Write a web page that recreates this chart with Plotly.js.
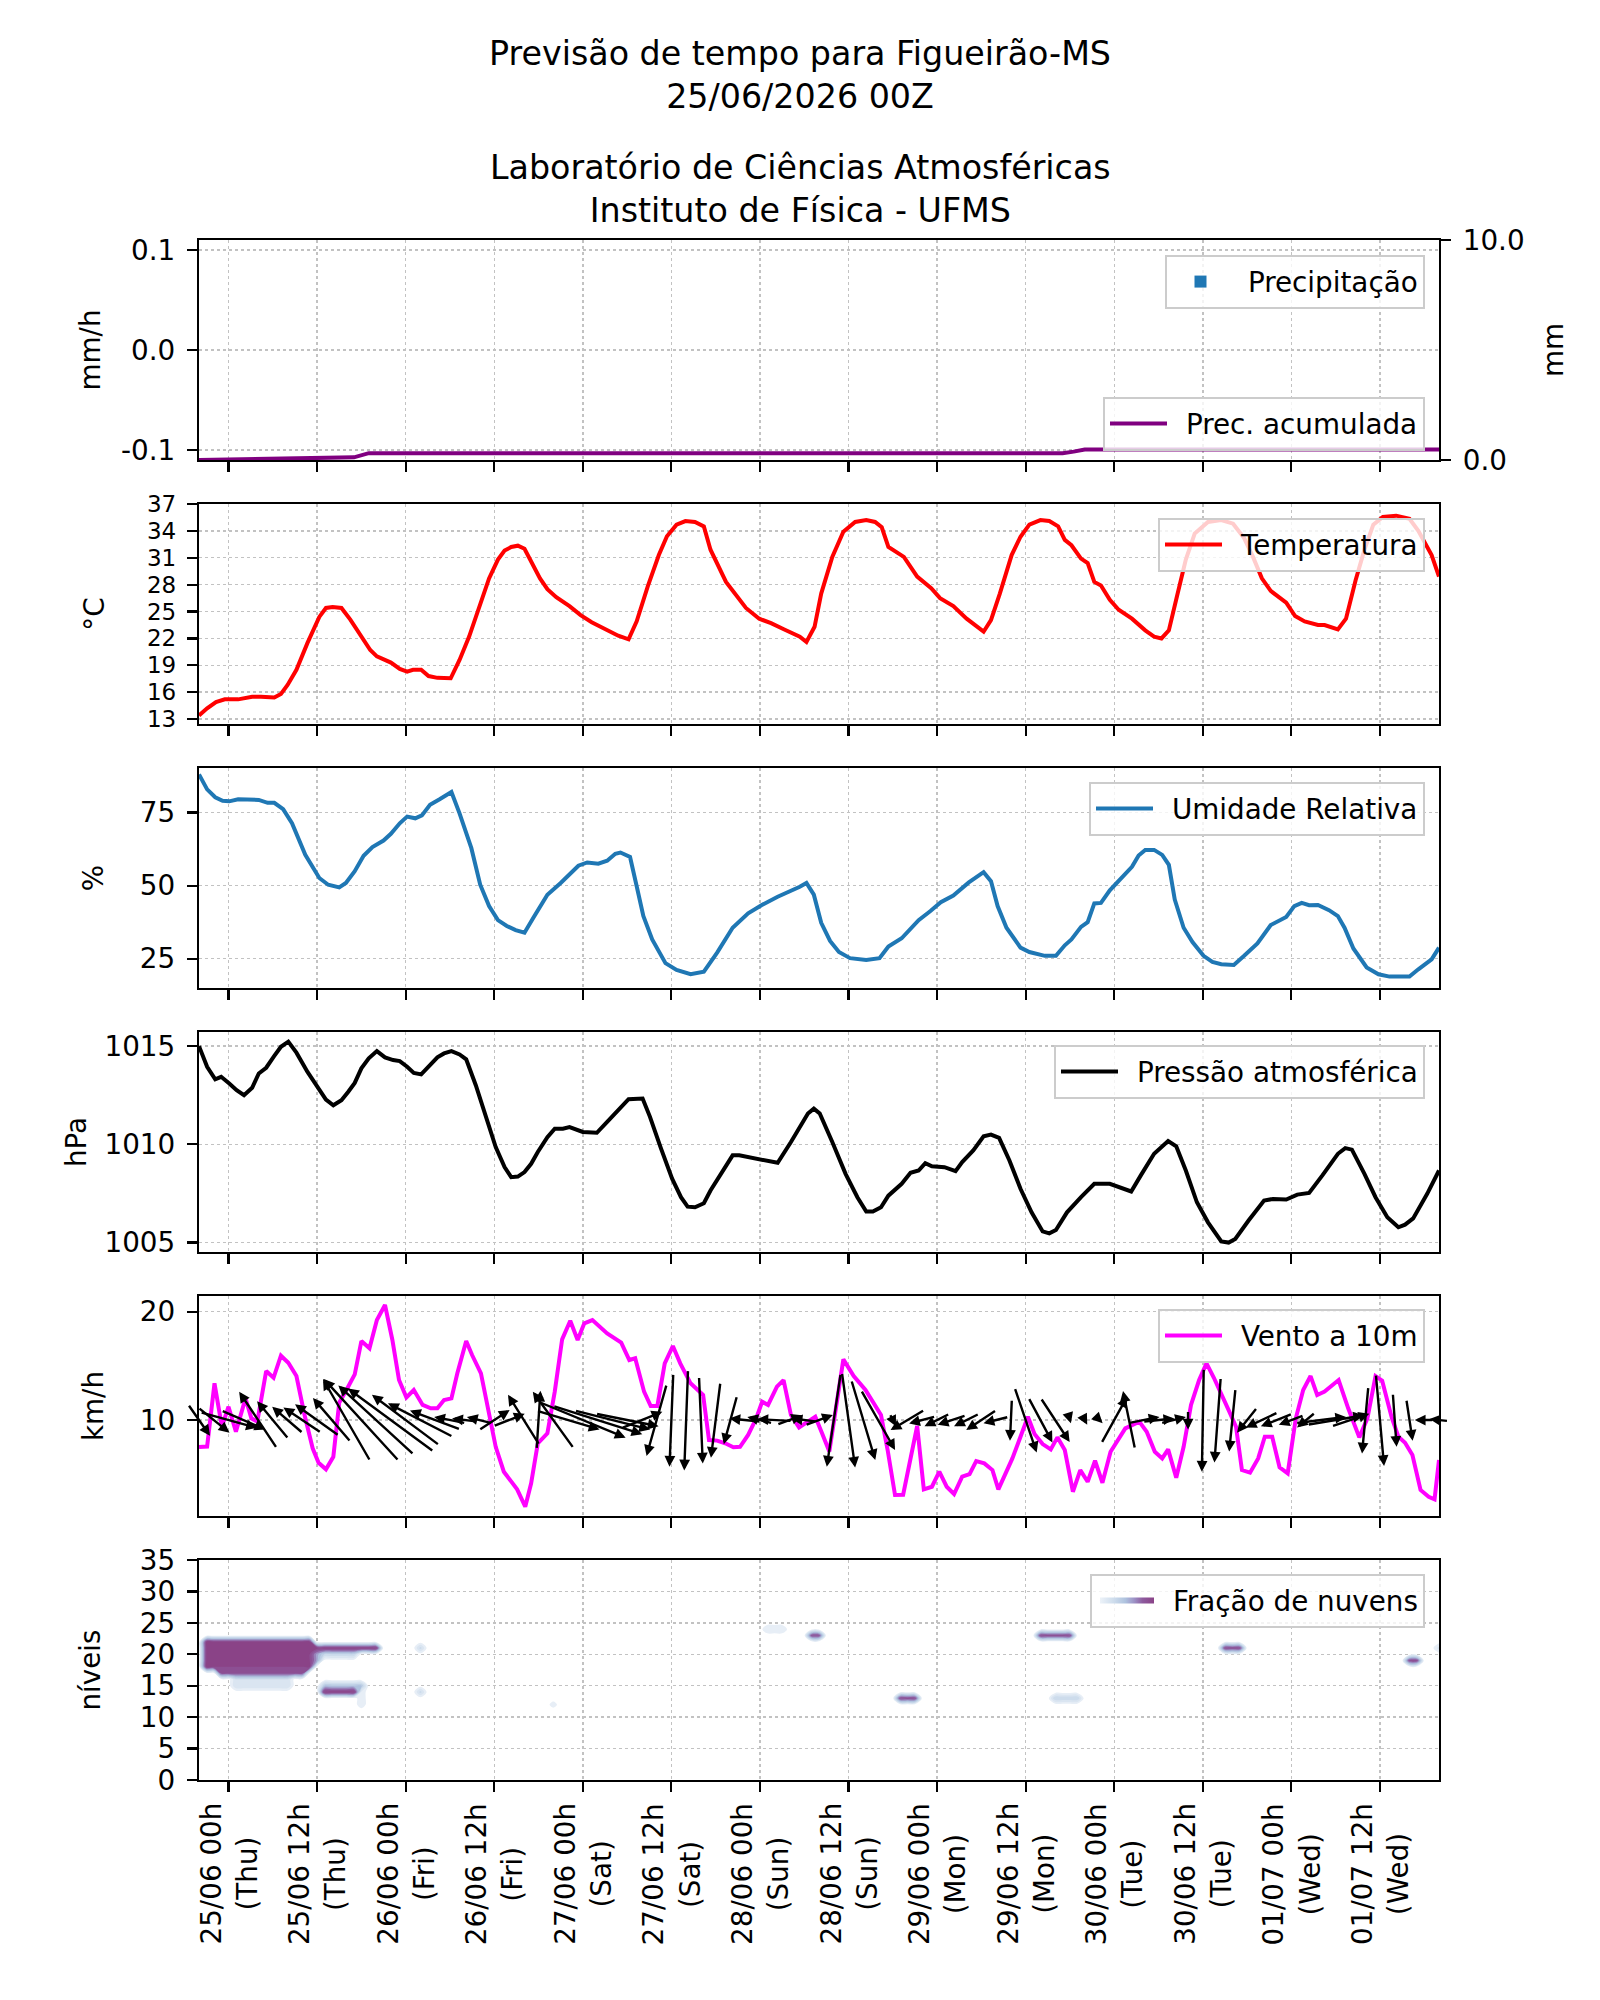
<!DOCTYPE html>
<html>
<head>
<meta charset="utf-8">
<script src="https://cdn.plot.ly/plotly-3.0.1.min.js"></script>
<style>html,body{margin:0;padding:0;background:#fff}</style>
</head>
<body>
<div id="chart" style="width:1600px;height:2000px"></div>
<script>
// Forecast time axis: hours counted from 24/06 20h (local), the first model step.
const tickHours = [4, 16, 28, 40, 52, 64, 76, 88, 100, 112, 124, 136, 148, 160];
const tickDates = ['25/06 00h', '25/06 12h', '26/06 00h', '26/06 12h', '27/06 00h', '27/06 12h',
  '28/06 00h', '28/06 12h', '29/06 00h', '29/06 12h', '30/06 00h', '30/06 12h', '01/07 00h', '01/07 12h'];
const tickDays = ['(Thu)', '(Thu)', '(Fri)', '(Fri)', '(Sat)', '(Sat)', '(Sun)', '(Sun)',
  '(Mon)', '(Mon)', '(Tue)', '(Tue)', '(Wed)', '(Wed)'];

// Hourly precipitation (mm/h) and accumulated precipitation (mm)
const precipHours = [0, 12, 24, 36, 48, 60, 72, 84, 96, 108, 120, 132, 144, 156, 168];
const precipRate = [0, 0, 0, 0, 0, 0, 0, 0, 0, 0, 0, 0, 0, 0, 0];
const accumHours = [0, 21, 23, 117, 118.5, 120, 168];
const accumMm = [0.0, 0.12, 0.31, 0.31, 0.38, 0.48, 0.48];

// 2 m temperature (°C)
const tempHours = [0, 1.1, 2.3, 3.5, 5.3, 7.2, 8.4, 10.2, 11.1, 12.0, 13.2, 14.7, 16.3, 17.2, 18.1, 19.3, 20.5,
  22.0, 23.2, 24.1, 26.0, 27.2, 28.2, 29.0, 30.1, 31.1, 32.3, 34.1, 35.3, 36.6, 38.1, 39.3, 40.5, 41.4, 42.3,
  43.2, 44.1, 45.3, 46.2, 47.2, 48.4, 50.2, 51.7, 53.2, 55.0, 56.8, 58.2, 59.3, 60.8, 62.3, 63.4, 64.7, 65.9,
  67.2, 68.4, 69.3, 71.4, 74.1, 75.9, 77.5, 79.3, 81.4, 82.3, 83.4, 84.3, 85.8, 87.3, 88.9, 90.4, 91.6, 92.5,
  93.4, 95.5, 97.3, 99.2, 100.4, 102.2, 104.0, 106.3, 107.3, 108.5, 110.1, 111.3, 112.5, 114.0, 115.2, 116.4,
  117.3, 118.2, 119.5, 120.4, 121.3, 122.2, 123.4, 124.6, 126.4, 128.2, 129.4, 130.4, 131.4, 132.5, 133.7,
  134.9, 136.7, 138.5, 140.1, 141.6, 142.8, 144.0, 145.2, 147.3, 148.5, 149.8, 151.6, 152.5, 154.3, 155.4,
  156.7, 157.9, 159.1, 160.4, 162.2, 164.0, 165.2, 167.0, 168.0];
const tempC = [13.4, 14.2, 14.9, 15.2, 15.2, 15.5, 15.5, 15.4, 15.8, 16.8, 18.5, 21.5, 24.4, 25.4, 25.5, 25.4, 24.1,
  22.2, 20.7, 20.0, 19.3, 18.6, 18.3, 18.5, 18.5, 17.8, 17.6, 17.55, 19.6, 22.2, 25.9, 28.7, 30.8, 31.8, 32.2,
  32.35, 32.0, 30.0, 28.7, 27.5, 26.6, 25.6, 24.6, 23.8, 23.0, 22.3, 21.9, 23.9, 27.8, 31.3, 33.4, 34.7, 35.1,
  35.0, 34.5, 31.9, 28.3, 25.4, 24.2, 23.7, 23.0, 22.2, 21.6, 23.3, 27.0, 31.1, 33.9, 35.0, 35.2, 35.0, 34.4,
  32.2, 31.1, 28.9, 27.6, 26.5, 25.6, 24.2, 22.75, 24.05, 27.0, 31.3, 33.35, 34.7, 35.2, 35.1, 34.5,
  33.0, 32.4, 30.9, 30.4, 28.3, 27.9, 26.3, 25.2, 24.2, 22.9, 22.2, 22.0, 22.9, 26.7, 30.8,
  33.7, 35.0, 35.2, 34.8, 33.2, 31.1, 28.7, 27.3, 26.0, 24.5, 23.9, 23.5, 23.5, 23.0, 24.2,
  28.5, 31.9, 34.7, 35.55, 35.7, 35.35, 34.0, 31.3, 28.9];

// Relative humidity (%)
const rhHours = [0, 1.1, 2.2, 3.2, 4.1, 5.3, 8.1, 9.3, 10.2, 11.4, 12.6, 14.4, 16.3, 17.5, 19.0, 19.9, 21.1, 22.3,
  23.5, 25.0, 26.0, 27.2, 28.2, 29.3, 30.2, 31.3, 32.6, 34.2, 35.3, 36.9, 38.1, 39.3, 40.5, 41.7, 42.9, 44.1,
  45.3, 47.2, 49.0, 51.4, 52.6, 54.1, 55.3, 56.4, 57.1, 58.4, 59.3, 60.2, 61.4, 63.2, 64.7, 66.6, 68.4, 70.2,
  72.3, 74.4, 76.2, 78.4, 81.4, 82.3, 83.3, 84.3, 85.5, 86.7, 88.2, 90.4, 92.2, 93.4, 95.2, 96.4, 97.5, 99.1,
  100.5, 102.2, 104.3, 106.3, 107.3, 108.2, 109.4, 111.3, 112.5, 114.6, 116.1, 117.3, 118.2, 119.5, 120.4,
  121.3, 122.2, 123.4, 124.7, 126.4, 127.3, 128.2, 129.4, 130.5, 131.4, 132.2, 133.4, 134.6, 136.1, 137.3,
  138.5, 140.2, 141.6, 143.4, 145.2, 146.4, 147.3, 148.4, 149.4, 150.4, 151.6, 153.1, 154.3, 155.2, 156.4,
  158.2, 159.8, 161.3, 164.0, 165.2, 167.0, 168.0];
const rhPct = [88.0, 82.9, 80.2, 79.0, 78.8, 79.5, 79.3, 78.3, 78.3, 76.1, 71.3, 60.5, 52.6, 50.3, 49.4, 50.9, 54.9, 60.2,
  63.2, 65.4, 67.7, 71.3, 73.6, 73.0, 74.0, 77.6, 79.5, 82.0, 74.7, 62.8, 50.3, 43.0, 38.2, 36.2, 34.8, 33.9,
  39.0, 46.9, 50.9, 56.8, 57.9, 57.5, 58.5, 60.9, 61.3, 59.8, 49.8, 39.6, 31.6, 23.5, 21.2, 19.7, 20.6, 27.1,
  35.6, 40.5, 43.3, 46.2, 49.6, 50.9, 46.9, 37.3, 31.1, 27.3, 25.2, 24.6, 25.2, 29.2, 32.0, 35.0, 38.2, 41.3,
  44.3, 46.6, 51.1, 54.6, 51.5, 43.0, 35.6, 28.8, 27.3, 26.0, 26.0, 29.6, 31.6, 35.9, 37.5,
  43.9, 44.1, 48.4, 51.8, 56.4, 60.3, 62.2, 62.2, 60.5, 57.1, 45.2, 35.6, 30.7, 26.0, 23.9,
  23.1, 22.9, 26.0, 30.2, 36.5, 38.2, 39.3, 43.0, 44.1, 43.3, 43.4, 41.6, 39.6, 35.6, 28.5,
  22.0, 19.7, 18.9, 18.9, 21.4, 24.8, 28.8];

// Sea-level pressure (hPa)
const presHours = [0, 1.1, 2.2, 3.0, 4.1, 5.1, 6.1, 7.2, 8.1, 9.1, 10.2, 11.1, 12.1, 13.2, 14.7, 16.3, 17.2, 18.2,
  19.3, 20.2, 21.1, 22.0, 23.0, 24.1, 25.2, 26.3, 27.2, 28.2, 29.1, 30.1, 31.1, 32.3, 33.2, 34.2, 35.3, 36.2,
  37.5, 39.0, 40.2, 41.4, 42.3, 43.2, 44.1, 45.0, 45.9, 47.2, 48.2, 49.3, 50.2, 52.0, 53.9, 55.3, 56.8, 58.2,
  60.1, 61.1, 62.6, 64.1, 65.3, 66.2, 67.2, 68.4, 69.3, 70.8, 72.3, 73.2, 75.0, 76.8, 78.4, 80.2, 81.6, 82.5,
  83.3, 84.1, 85.8, 87.6, 89.2, 90.4, 91.3, 92.4, 93.4, 95.2, 96.4, 97.5, 98.4, 99.3, 101.0, 102.5, 103.4,
  104.9, 106.3, 107.3, 108.4, 109.8, 111.3, 112.8, 114.3, 115.2, 116.1, 117.6, 119.5, 121.3, 123.4, 125.2,
  126.3, 127.6, 129.4, 131.3, 132.4, 133.7, 135.2, 136.7, 138.5, 139.5, 140.4, 142.2, 144.3, 145.5, 147.3,
  148.8, 150.4, 152.2, 154.3, 155.3, 156.2, 157.9, 159.4, 161.0, 162.5, 163.4, 164.5, 166.4, 168.0];
const presHpa = [1015.0, 1013.95, 1013.31, 1013.44, 1013.10, 1012.76, 1012.50, 1012.88, 1013.61, 1013.90, 1014.50,
  1014.97, 1015.23, 1014.67, 1013.69, 1012.76, 1012.28, 1011.99, 1012.25, 1012.67, 1013.13, 1013.87, 1014.38,
  1014.75, 1014.43, 1014.29, 1014.24, 1013.95, 1013.64, 1013.56, 1013.99, 1014.43, 1014.63, 1014.75, 1014.58,
  1014.33, 1013.01, 1011.23, 1009.86, 1008.84, 1008.33, 1008.36, 1008.59, 1009.01, 1009.61, 1010.37, 1010.80,
  1010.80, 1010.88, 1010.63, 1010.59, 1011.14, 1011.74, 1012.30, 1012.33, 1011.40, 1009.78, 1008.25, 1007.31,
  1006.83, 1006.80, 1007.00, 1007.65, 1008.59, 1009.44, 1009.44, 1009.32, 1009.18, 1009.06, 1010.12, 1011.0,
  1011.57, 1011.82, 1011.57, 1010.12, 1008.50, 1007.31, 1006.58, 1006.58, 1006.80, 1007.39, 1007.99, 1008.55,
  1008.67, 1009.04, 1008.88, 1008.84, 1008.64, 1009.10, 1009.69, 1010.41, 1010.50, 1010.33, 1009.18, 1007.74,
  1006.54, 1005.57, 1005.47, 1005.64, 1006.54, 1007.31, 1007.99, 1007.99, 1007.74, 1007.60, 1008.42, 1009.52,
  1010.17, 1009.90, 1008.67, 1007.05, 1006.03, 1005.06, 1005.0, 1005.18, 1006.12, 1007.14, 1007.22, 1007.19,
  1007.44, 1007.53, 1008.42, 1009.52, 1009.81, 1009.73, 1008.50, 1007.31, 1006.29, 1005.78, 1005.91, 1006.23,
  1007.48, 1008.67];

// 10 m wind speed (km/h)
const windHours = [0, 1.1, 2.1, 3.1, 4.0, 5.0, 6.3, 7.1, 7.9, 9.1, 10.1, 11.1, 12.1, 13.2, 14.3, 15.4, 16.2, 17.2,
  18.2, 19.0, 20.1, 21.1, 22.0, 23.1, 24.1, 25.2, 26.2, 27.1, 28.1, 29.1, 30.3, 31.4, 32.3, 33.2, 34.2, 35.0,
  36.2, 37.0, 38.2, 39.2, 40.2, 41.3, 43.1, 44.2, 45.0, 45.9, 47.2, 48.2, 49.2, 50.3, 51.3, 52.2, 53.3, 55.3,
  57.2, 58.3, 59.1, 60.3, 61.2, 62.1, 63.1, 64.2, 65.2, 66.6, 68.3, 69.1, 70.2, 71.3, 72.4, 73.3, 74.4, 75.5,
  76.3, 77.1, 78.3, 79.2, 80.2, 81.3, 82.5, 83.5, 84.4, 85.4, 87.3, 88.7, 90.3, 92.4, 93.3, 94.3, 95.4, 96.3,
  97.3, 98.2, 99.3, 100.3, 101.3, 102.3, 103.4, 104.4, 105.3, 106.4, 107.5, 108.3, 110.2, 111.3, 112.3, 113.2,
  114.3, 115.4, 116.3, 117.3, 118.4, 119.4, 120.4, 121.4, 122.4, 123.5, 125.5, 127.4, 128.4, 129.5, 130.5,
  131.3, 132.4, 133.4, 134.4, 135.5, 136.5, 137.5, 138.4, 139.5, 140.5, 141.3, 142.4, 143.5, 144.4, 145.4,
  146.4, 147.5, 148.6, 149.6, 150.6, 151.5, 152.5, 154.4, 155.7, 157.2, 158.3, 159.4, 160.3, 161.6, 162.5,
  163.4, 164.4, 165.5, 166.6, 167.4, 168.0];
const windKmh = [7.5, 7.55, 13.39, 9.38, 11.23, 8.92, 12.0, 10.16, 9.85, 14.52, 13.9, 15.94, 15.29, 14.06, 10.46, 7.39,
  6.06, 5.45, 6.61, 11.6, 12.93, 14.22, 17.29, 16.62, 19.23, 20.62, 17.39, 13.69, 12.09, 12.77, 11.39, 11.08,
  11.08, 11.85, 12.0, 14.31, 17.29, 16.0, 14.31, 10.92, 7.53, 5.23, 3.60, 2.0, 4.16, 7.85, 8.77, 12.62, 17.45,
  19.17, 17.39, 18.93, 19.23, 18.0, 17.14, 15.54, 15.7, 12.62, 11.29, 11.3, 15.23, 16.83, 15.23, 13.39, 12.31,
  8.15, 8.1, 7.85, 7.48, 7.53, 8.62, 10.16, 11.69, 11.39, 13.08, 13.69, 10.46, 9.32, 9.85, 10.31, 8.8, 7.1,
  15.6, 14.06, 12.77, 10.46, 7.23, 3.08, 3.1, 6.31, 9.45, 3.6, 3.84, 5.23, 3.84, 3.17, 4.77, 5.01, 6.21, 6.0,
  5.38, 3.6, 6.46, 8.46, 10.31, 8.71, 7.78, 7.29, 8.4, 7.23, 3.38, 5.38, 4.3, 6.24, 4.21, 7.07, 9.23, 9.85,
  8.92, 7.07, 6.46, 7.29, 4.67, 7.53, 11.39, 13.69, 15.23, 13.9, 12.62, 10.92, 9.38, 5.38, 5.14, 6.46, 8.46,
  8.46, 5.63, 5.08, 10.16, 12.77, 14.06, 12.31, 12.62, 13.69, 11.08, 8.4, 10.16, 14.06, 13.63, 10.22, 8.46,
  7.91, 6.77, 3.54, 2.92, 2.68, 6.31];

// Wind vectors every 2 h (u = east, v = north, km/h), drawn centred on the 10 km/h line
const arrowHours = [0, 2, 4, 6, 8, 10, 12, 14, 16, 18, 20, 22, 24, 26, 28, 30, 32, 34, 36, 38, 40, 42, 44, 46,
  48, 50, 52, 54, 56, 58, 60, 62, 64, 66, 68, 70, 72, 74, 76, 78, 80, 82, 84, 86, 88, 90, 92, 94, 96, 98, 100,
  102, 104, 106, 108, 110, 112, 114, 116, 118, 120, 122, 124, 126, 128, 130, 132, 134, 136, 138, 140, 142, 144,
  146, 148, 150, 152, 154, 156, 158, 160, 162, 164, 166, 168];
const arrowU = [3.5, 5, 9, 7, -6, -5, -4.9, -6, -7, -6, -7.5, -11.9, -12, -13.6, -10.7, -10.3, -8, -5, -4, -4,
  4.9, 5, -5, 0.6, -6.5, 10, 13.6, 14.2, 12, 10, 6.5, -3.2, -0.6, -0.6, 0.6, -1.5, -2.1, -5, -4, -5.5, 4, -4,
  4.4, -2.2, 2.1, 3.8, 5.4, 1, -5.4, -4.2, -4, -4.5, -4, -4.8, -4, -0.3, 3.5, 3.8, 4.6, 0.3, 0.8, 1, 4.1, -1.9,
  5, 5, 4, 0, -0.3, -1, -1, -3.2, -5.1, -5, -4, -2.9, 8, 9, 6, -1, 1.3, 0.6, 1, -3, -3];
const arrowV = [-5, -4, -2.5, -3, 9, 6, 4.2, 4, 5, 7, 13, 13, 11, 10, 8, 5.3, 3, 1, 0.5, 1,
  3.2, 2, 8, 9.3, 9, -3, -5.6, -4.5, -3, -2, 2.6, -11.4, -14.8, -16, -13.8, -12, -7.7, 0.5, 1, 0.3, 1.5, 0.5,
  1.6, -14.8, -15.1, -12.7, -9.5, -2, -3.2, -1.1, -2, -1.5, -2, -3.2, -1, -6.6, -10.3, -7.1, -7, -1, -1.5, -1, 7.4, 9.2,
  1, 0.5, 1, -3, -16.4, -13.5, -10, -4, -2.4, -2, -1.5, -2.4, 1, 1.5, 2, -10.6, -14.6, -8.5, -6.6, 0, 0.3];

// Cloud fraction by model level: rectangular blocks of hours/levels sharing one value
const cloudHourFrom = [1, 3, 5, 16, 16, 16, 17, 17, 22, 30, 30, 48, 77, 83, 95, 114, 116, 139, 164, 168];
const cloudHourTo = [15, 14, 12, 24, 21, 16, 21, 22, 22, 30, 30, 48, 79, 84, 97, 118, 119, 141, 165, 168];
const cloudLevelFrom = [18, 17, 15, 21, 20, 19, 14, 15, 12, 21, 14, 12, 24, 23, 13, 23, 13, 21, 19, 21];
const cloudLevelTo = [22, 17, 16, 21, 20, 20, 14, 15, 14, 21, 14, 12, 24, 23, 13, 23, 13, 21, 19, 21];
const cloudFraction = [0.95, 0.85, 0.25, 1.0, 0.35, 0.6, 1.0, 0.45, 0.12, 0.3, 0.3, 0.1, 0.15, 0.85, 0.9, 0.9,
  0.35, 0.9, 0.9, 0.2];

// ---------------------------------------------------------------------------
const FONT = 'DejaVu Sans';
const FS = 27.8;
const W = 1600, H = 2000;
const M = {l: 199, r: 161, t: 240, b: 220};
const plotW = W - M.l - M.r;
const plotH = H - M.t - M.b;
const panelPx = 220, gapPx = 44;
const HOUR_RANGE = [0, 168];
const LEGEND_GAP = '\u2002';

// paper-y domain of panel i (0 = top)
function domainOf(i) {
  const top = 1 - i * (panelPx + gapPx) / plotH;
  return [top - panelPx / plotH, top];
}

const gridStyle = {showgrid: true, gridcolor: '#c2c2c2', gridwidth: 1.4, griddash: 'dot'};
const lineStyle = {showline: true, linecolor: '#000', linewidth: 2.2, mirror: true, zeroline: false,
  ticks: 'outside', ticklen: 10, tickwidth: 2.2, tickcolor: '#000',
  tickfont: {family: FONT, size: FS, color: '#000'}};

function xAxis(anchor) {
  return Object.assign({}, lineStyle, gridStyle, {
    domain: [0, 1], range: HOUR_RANGE, anchor: anchor, tickmode: 'array', tickvals: tickHours,
    showticklabels: false, fixedrange: true
  });
}
function yAxis(i, anchor, range, extra, title, standoff) {
  return Object.assign({}, lineStyle, gridStyle, {
    domain: domainOf(i), range: range, anchor: anchor, fixedrange: true, ticklabelstandoff: 6,
    title: {text: title, font: {family: FONT, size: FS, color: '#000'}, standoff: standoff}
  }, extra);
}

function legendBox(yTopPx) {
  return {
    x: (1425 - M.l) / plotW, xanchor: 'right', y: (H - M.b - yTopPx) / plotH, yanchor: 'top',
    bgcolor: 'rgba(255,255,255,0.8)', bordercolor: '#cccccc', borderwidth: 2,
    font: {family: FONT, size: FS, color: '#000'}, itemwidth: 57, tracegroupgap: 0, itemclick: false
  };
}

// Cloud-fraction grid built from the blocks above
const gridHours = [];
for (let h = HOUR_RANGE[0]; h <= HOUR_RANGE[1]; h++) gridHours.push(h);
const gridLevels = [];
for (let l = 0; l <= 35; l++) gridLevels.push(l);
const cloudZ = gridLevels.map(l => gridHours.map(h => {
  let v = 0;
  for (let k = 0; k < cloudFraction.length; k++) {
    if (h >= cloudHourFrom[k] && h <= cloudHourTo[k] && l >= cloudLevelFrom[k] && l <= cloudLevelTo[k]) {
      v = Math.max(v, cloudFraction[k]);
    }
  }
  return v;
}));

const traces = [
  {type: 'bar', x: precipHours, y: precipRate, name: LEGEND_GAP + 'Precipitação', marker: {color: '#1f77b4'},
    xaxis: 'x', yaxis: 'y', legend: 'legend', hoverinfo: 'skip'},
  {type: 'scatter', mode: 'lines', x: accumHours, y: accumMm, name: LEGEND_GAP + 'Prec. acumulada',
    line: {color: '#800080', width: 4}, xaxis: 'x', yaxis: 'y7', legend: 'legend2', hoverinfo: 'skip'},
  {type: 'scatter', mode: 'lines', x: tempHours, y: tempC, name: LEGEND_GAP + 'Temperatura',
    line: {color: '#ff0000', width: 4}, xaxis: 'x2', yaxis: 'y2', legend: 'legend3', hoverinfo: 'skip'},
  {type: 'scatter', mode: 'lines', x: rhHours, y: rhPct, name: LEGEND_GAP + 'Umidade Relativa',
    line: {color: '#1f77b4', width: 4}, xaxis: 'x3', yaxis: 'y3', legend: 'legend4', hoverinfo: 'skip'},
  {type: 'scatter', mode: 'lines', x: presHours, y: presHpa, name: LEGEND_GAP + 'Pressão atmosférica',
    line: {color: '#000000', width: 4}, xaxis: 'x4', yaxis: 'y4', legend: 'legend5', hoverinfo: 'skip'},
  {type: 'scatter', mode: 'lines', x: windHours, y: windKmh, name: LEGEND_GAP + 'Vento a 10m',
    line: {color: '#ff00ff', width: 4}, xaxis: 'x5', yaxis: 'y5', legend: 'legend6', hoverinfo: 'skip'},
  {type: 'contour', x: gridHours, y: gridLevels, z: cloudZ, name: LEGEND_GAP + 'Fração de nuvens',
    xaxis: 'x6', yaxis: 'y6', legend: 'legend7', showlegend: true, showscale: false,
    zauto: false, zmin: 0, zmax: 1, autocontour: false,
    contours: {start: 0.05, end: 0.95, size: 0.1, coloring: 'fill', showlines: false},
    line: {width: 0, smoothing: 1},
    colorscale: [[0, 'rgba(255,255,255,0)'], [0.049, 'rgba(255,255,255,0)'], [0.05, '#edf3f9'],
      [0.3, '#cddcec'], [0.5, '#aec2de'], [0.65, '#9d93c6'], [0.8, '#8e5b9e'], [1, '#8a4387']],
    hoverinfo: 'skip'}
];

const windRange = [1.14, 21.45];
const layout = {
  width: W, height: H, margin: M, paper_bgcolor: '#fff', plot_bgcolor: '#fff',
  font: {family: FONT, size: FS, color: '#000'}, hovermode: false, showlegend: true,
  title: {text: 'Previsão de tempo para Figueirão-MS<br>25/06/2026 00Z',
    font: {family: FONT, size: 33.3, color: '#000'}, x: 0.5, xref: 'container', xanchor: 'center',
    y: 1 - 64.5 / H, yref: 'container', yanchor: 'middle'},
  xaxis: xAxis('y'), xaxis2: xAxis('y2'), xaxis3: xAxis('y3'),
  xaxis4: xAxis('y4'), xaxis5: xAxis('y5'), xaxis6: xAxis('y6'),
  yaxis: yAxis(0, 'x', [-0.11, 0.11], {tickmode: 'array', tickvals: [-0.1, 0, 0.1],
    ticktext: ['-0.1', '0.0', '0.1']}, 'mm/h', 12),
  yaxis7: Object.assign({}, lineStyle, {overlaying: 'y', side: 'right', anchor: 'x', range: [0, 10],
    tickmode: 'array', tickvals: [0, 10], ticktext: ['0.0', '10.0'], showgrid: false, fixedrange: true,
    ticklabelstandoff: 6,
    title: {text: 'mm', font: {family: FONT, size: FS, color: '#000'}, standoff: 20}}),
  yaxis2: yAxis(1, 'x2', [12.45, 37], {tickmode: 'linear', tick0: 13, dtick: 3,
    tickfont: {family: FONT, size: 23, color: '#000'}}, '°C', 34),
  yaxis3: yAxis(2, 'x3', [15.0, 90.2], {tickmode: 'array', tickvals: [25, 50, 75]}, '%', 28.5),
  yaxis4: yAxis(3, 'x4', [1004.52, 1015.72], {tickmode: 'array', tickvals: [1005, 1010, 1015]}, 'hPa', 9.5),
  yaxis5: yAxis(4, 'x5', windRange, {tickmode: 'array', tickvals: [10, 20]}, 'km/h', 28.5),
  yaxis6: yAxis(5, 'x6', [0, 35], {tickmode: 'linear', tick0: 0, dtick: 5}, 'níveis', 31),
  legend: legendBox(255), legend2: legendBox(397), legend3: legendBox(518), legend4: legendBox(782),
  legend5: legendBox(1045), legend6: legendBox(1309), legend7: legendBox(1574),
  annotations: []
};

// Second title block
layout.annotations.push({
  text: 'Laboratório de Ciências Atmosféricas<br>Instituto de Física - UFMS',
  xref: 'paper', yref: 'paper', x: (800 - M.l) / plotW, y: (H - M.b - 189) / plotH,
  xanchor: 'center', yanchor: 'middle', showarrow: false, align: 'center',
  font: {family: FONT, size: 33.3, color: '#000'}
});

// Rotated date labels under the bottom panel
tickHours.forEach((h, i) => {
  layout.annotations.push({
    text: tickDates[i] + '<br>' + tickDays[i], xref: 'x6', yref: 'paper', x: h, y: 0,
    xanchor: 'center', yanchor: 'top', yshift: -21, textangle: -90, align: 'center', showarrow: false,
    font: {family: FONT, size: FS, color: '#000'}
  });
});

// Wind vectors: length proportional to speed, pivot in the middle at 10 km/h
const ARROW_PX_PER_KMH = 6.3;
const pxPerHour = plotW / (HOUR_RANGE[1] - HOUR_RANGE[0]);
const pxPerKmh = panelPx / (windRange[1] - windRange[0]);
arrowHours.forEach((h, i) => {
  const dx = 0.5 * arrowU[i] * ARROW_PX_PER_KMH / pxPerHour;
  const dy = 0.5 * arrowV[i] * ARROW_PX_PER_KMH / pxPerKmh;
  layout.annotations.push({
    xref: 'x5', yref: 'y5', axref: 'x5', ayref: 'y5',
    x: h + dx, y: 10 + dy, ax: h - dx, ay: 10 - dy, text: '',
    showarrow: true, arrowhead: 2, arrowsize: 0.9, arrowwidth: 2.4, arrowcolor: '#000', standoff: 0
  });
});

Plotly.newPlot('chart', traces, layout, {displayModeBar: false, staticPlot: true});
</script>
</body>
</html>
